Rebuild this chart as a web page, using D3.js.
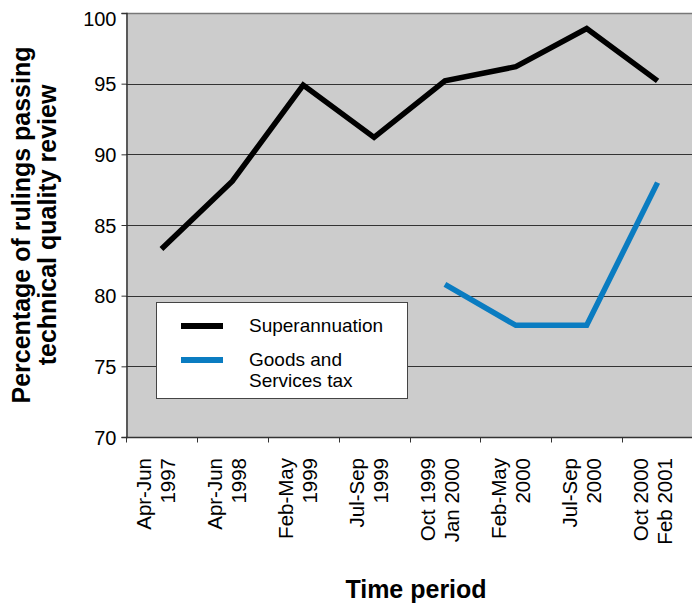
<!DOCTYPE html>
<html>
<head>
<meta charset="utf-8">
<script src="https://cdn.jsdelivr.net/npm/d3@7"></script>
<style>
  html, body { margin: 0; padding: 0; background: #fff; }
  svg { display: block; font-family: "Liberation Sans", Arial, sans-serif; }
</style>
</head>
<body>
<svg id="chart" width="692" height="606"></svg>
<script>
// ---- data ----
const categories = [
  ["Apr-Jun", "1997"],
  ["Apr-Jun", "1998"],
  ["Feb-May", "1999"],
  ["Jul-Sep", "1999"],
  ["Oct 1999", "Jan 2000"],
  ["Feb-May", "2000"],
  ["Jul-Sep", "2000"],
  ["Oct 2000", "Feb 2001"]
];
const superannuation = [83.3, 88.1, 94.9, 91.2, 95.2, 96.2, 98.9, 95.2];
const gst = [null, null, null, null, 80.8, 77.9, 77.9, 88.0];
const yTicks = [70, 75, 80, 85, 90, 95, 100];
const seriesNames = ["Superannuation", ["Goods and", "Services tax"]];
const seriesColors = ["#000000", "#0a7cc1"];

// ---- layout ----
const svg = d3.select("#chart");
const plot = { left: 126, right: 693, top: 13, bottom: 437 };

const x = d3.scaleBand()
  .domain(d3.range(categories.length))
  .range([plot.left, plot.right])
  .padding(0);
const y = d3.scaleLinear().domain([70, 100]).range([plot.bottom, plot.top]);

// background
svg.append("rect")
  .attr("x", plot.left).attr("y", plot.top)
  .attr("width", plot.right - plot.left).attr("height", plot.bottom - plot.top)
  .attr("fill", "#cccccc");

// gridlines
svg.append("g").selectAll("line")
  .data(yTicks.filter(d => d !== 70))
  .join("line")
  .attr("x1", plot.left).attr("x2", plot.right)
  .attr("y1", d => Math.round(y(d)) + 0.5).attr("y2", d => Math.round(y(d)) + 0.5)
  .attr("stroke", d => d === 100 ? "#777" : "#333")
  .attr("stroke-width", d => d === 100 ? 1.5 : 1);

// y axis
const yAxis = svg.append("g")
  .attr("transform", `translate(${plot.left + 0.5},0)`)
  .call(d3.axisLeft(y).tickValues(yTicks).tickSize(5).tickPadding(5).tickFormat(d3.format("d")));
yAxis.select(".domain").attr("stroke", "#333").attr("stroke-width", 1.5);
yAxis.selectAll(".tick line").attr("stroke", "#333");
yAxis.selectAll(".tick text")
  .attr("font-size", 20)
  .attr("font-family", "Liberation Sans, Arial, sans-serif")
  .attr("fill", "#000")
  .attr("dy", d => d === 100 ? "0.95em" : "0.35em")
  .attr("y", d => d === 100 ? -7 : 0);

// x axis
const xAxis = svg.append("g")
  .attr("transform", `translate(0,${plot.bottom + 0.5})`);
xAxis.append("line")
  .attr("x1", plot.left).attr("x2", plot.right)
  .attr("stroke", "#333").attr("stroke-width", 1.5);
xAxis.selectAll("line.tick")
  .data(d3.range(categories.length + 1))
  .join("line")
  .attr("class", "tick")
  .attr("x1", i => Math.round(plot.left + i * x.step()) + 0.5)
  .attr("x2", i => Math.round(plot.left + i * x.step()) + 0.5)
  .attr("y1", 0).attr("y2", 5)
  .attr("stroke", "#333");

const labels = svg.append("g").selectAll("text")
  .data(categories)
  .join("text")
  .attr("transform", (d, i) => `translate(${x(i) + x.bandwidth() / 2},458) rotate(-90)`)
  .attr("text-anchor", "end")
  .attr("font-size", 20.5)
  .attr("fill", "#000");
labels.each(function(d) {
  const t = d3.select(this);
  t.append("tspan").attr("x", 0).attr("y", -10).text(d[0]);
  t.append("tspan").attr("x", 0).attr("y", 14).text(d[1]);
});

// lines
const line = d3.line()
  .defined(d => d != null)
  .x((d, i) => x(i) + x.bandwidth() / 2)
  .y(d => y(d));

[superannuation, gst].forEach((s, k) => {
  svg.append("path")
    .datum(s)
    .attr("fill", "none")
    .attr("stroke", seriesColors[k])
    .attr("stroke-width", 5.5)
    .attr("stroke-linejoin", "miter")
    .attr("d", line);
});

// legend
const lg = svg.append("g");
lg.append("rect")
  .attr("x", 156.5).attr("y", 302.5).attr("width", 251).attr("height", 96)
  .attr("fill", "#ffffff").attr("stroke", "#444").attr("stroke-width", 1);
const legendRows = [
  { sy: 326, lines: [seriesNames[0]], ty: [332] },
  { sy: 360, lines: seriesNames[1], ty: [366, 387] }
];
legendRows.forEach((r, k) => {
  lg.append("line")
    .attr("x1", 181).attr("x2", 223)
    .attr("y1", r.sy).attr("y2", r.sy)
    .attr("stroke", seriesColors[k]).attr("stroke-width", 6);
  r.lines.forEach((t, j) => {
    lg.append("text")
      .attr("x", 249).attr("y", r.ty[j])
      .attr("font-size", 19).attr("fill", "#000")
      .text(t);
  });
});

// axis titles
svg.append("text")
  .attr("x", 416).attr("y", 598)
  .attr("text-anchor", "middle")
  .attr("font-size", 25).attr("font-weight", "bold")
  .text("Time period");

const yt = svg.append("text")
  .attr("transform", `translate(0,${(plot.top + plot.bottom) / 2}) rotate(-90)`)
  .attr("text-anchor", "middle")
  .attr("font-size", 25).attr("font-weight", "bold");
yt.append("tspan").attr("x", 0).attr("y", 30).text("Percentage of rulings passing");
yt.append("tspan").attr("x", 0).attr("y", 56).text("technical quality review");
</script>
</body>
</html>
